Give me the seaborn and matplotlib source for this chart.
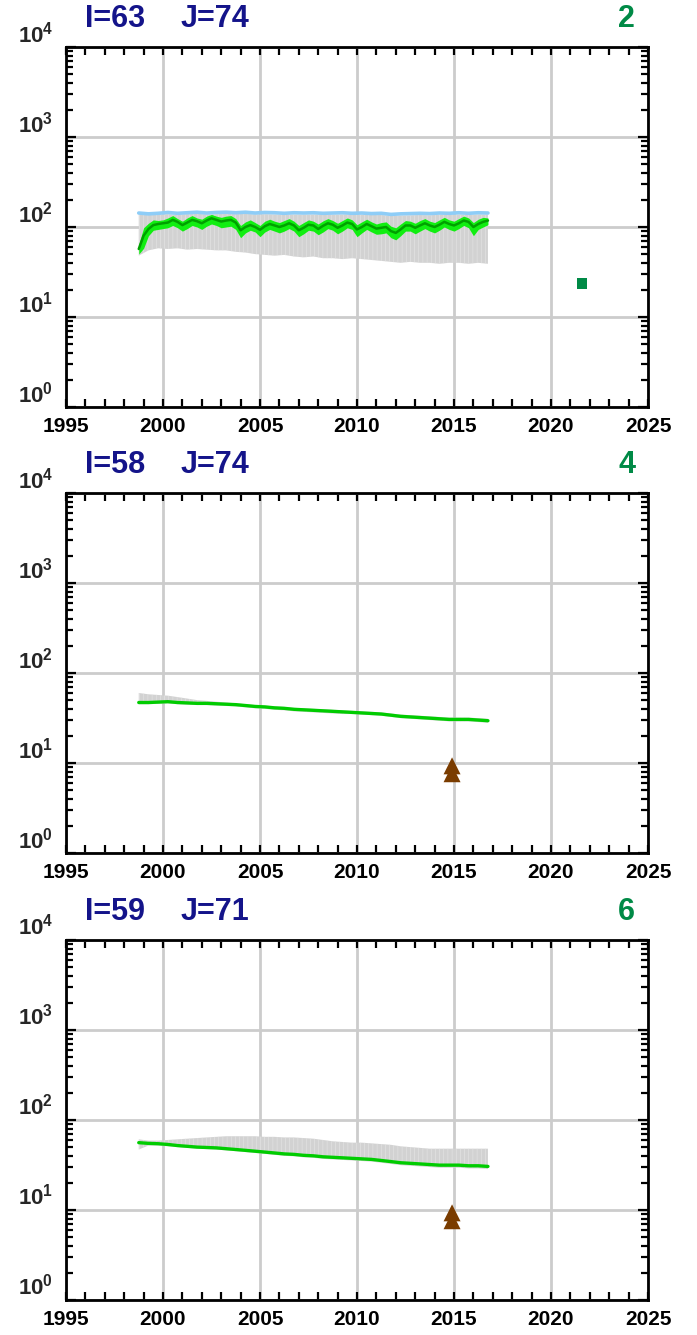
import numpy as np
import matplotlib
matplotlib.use('Agg')
import matplotlib.pyplot as plt
import matplotlib.transforms as mtransforms
import seaborn as sns
from matplotlib.ticker import MultipleLocator, FixedLocator, LogLocator, NullFormatter

sns.set_style('ticks')
plt.rcParams['font.family'] = ['Liberation Sans', 'DejaVu Sans']
plt.rcParams['font.weight'] = 'bold'
plt.rcParams['mathtext.fontset'] = 'custom'
plt.rcParams['mathtext.rm'] = 'Liberation Sans:bold'
plt.rcParams['mathtext.bf'] = 'Liberation Sans:bold'
plt.rcParams['hatch.linewidth'] = 0.4

# ---- data ----
# time axes (quarterly for panel 1 green series, half-yearly for the rest)
t_q = np.arange(1998.75, 2016.76, 0.25)
t_h = np.arange(1998.75, 2016.76, 0.5)

# panel 1 (I=63 J=74)
p1_green = [57, 80, 95, 105, 108, 110, 112, 120, 114, 105, 112, 120, 116, 110, 118, 125, 120,
            115, 118, 120, 112, 92, 100, 105, 100, 93, 102, 108, 104, 100, 104, 110, 104, 92,
            98, 106, 104, 95, 103, 110, 106, 98, 104, 112, 108, 94, 100, 108, 102, 96, 98, 100,
            90, 86, 94, 104, 104, 98, 104, 110, 104, 100, 106, 114, 108, 104, 110, 118, 114,
            100, 108, 114, 118]
p1_green_lo = [50, 58, 80, 92, 94, 96, 98, 104, 98, 90, 96, 104, 100, 94, 102, 108, 104,
               98, 100, 102, 94, 76, 86, 92, 88, 78, 88, 94, 90, 86, 90, 96, 90, 78, 84, 92,
               90, 82, 88, 96, 92, 84, 90, 98, 94, 78, 86, 94, 88, 83, 84, 86, 76, 72, 80, 90,
               90, 84, 90, 96, 90, 86, 92, 100, 94, 90, 96, 104, 98, 80, 94, 100, 106]
p1_green_hi = [64, 98, 110, 120, 118, 120, 126, 134, 124, 116, 126, 134, 126, 122, 132, 138,
               132, 128, 132, 134, 124, 104, 114, 120, 112, 104, 116, 122, 116, 112, 118, 124,
               116, 104, 112, 120, 116, 108, 117, 124, 118, 110, 118, 126, 120, 106, 114, 122,
               114, 108, 112, 114, 102, 98, 108, 118, 116, 110, 118, 124, 116, 112, 120, 128,
               120, 116, 124, 132, 126, 112, 122, 128, 126]
p1_blue = [143, 140, 142, 145, 142, 144, 146, 143, 145, 146, 144, 146, 143, 145, 144, 142, 144,
           143, 144, 142, 143, 144, 142, 143, 141, 142, 138, 140, 141, 142, 141, 143, 142, 144,
           142, 144, 143]
p1_grey_hi = [138, 136, 137, 139, 137, 139, 140, 138, 139, 140, 139, 140, 138, 139, 138, 137,
              138, 137, 138, 137, 137, 138, 137, 137, 136, 136, 133, 134, 135, 136, 135, 137,
              136, 138, 136, 138, 137]
p1_grey_lo = [48, 55, 58, 57, 58, 56, 57, 56, 55, 55, 53, 52, 50, 49, 48, 49, 47, 46, 47, 45,
              45, 44, 45, 44, 43, 42, 41, 40, 41, 40, 40, 39, 40, 40, 39, 40, 39]
p1_obs_t = [2021.6]
p1_obs_v = [23.5]

# panel 2 (I=58 J=74)
p2_green = [47, 47, 47.5, 48, 47, 46.5, 46, 46, 45.5, 45, 44.5, 43.5, 42.5, 42, 41, 40.5, 39.5,
            39, 38.5, 38, 37.5, 37, 36.5, 36, 35.5, 35, 34, 33, 32.5, 32, 31.5, 31, 30.5, 30.5,
            30.5, 30, 29.5]
p2_grey_hi = [60, 58, 57, 56, 54, 52, 50, 49, 48, 47, 46, 45, 44, 43.5, 42.5, 42, 41, 40.5, 40,
              39.5, 39, 38.5, 38, 37.5, 37, 36.5, 35.5, 34.5, 34, 33.5, 33, 32.5, 32, 32, 32,
              31.5, 31]
p2_grey_lo = [45, 45, 45.5, 46, 45, 44.5, 44, 44, 43.5, 43, 42.5, 41.5, 40.5, 40, 39, 38.5, 37.5,
              37, 36.5, 36, 35.5, 35, 35, 34.5, 34, 33.5, 32.5, 31.5, 31, 30.5, 30, 29.5, 29,
              29, 29, 28.5, 28]
p2_obs_t = [2014.9, 2014.9]
p2_obs_v = [9.3, 7.6]

# panel 3 (I=59 J=71)
p3_green = [56, 55, 54.5, 53.5, 52, 51, 50, 49.5, 49, 48, 47, 46, 45, 44, 43, 42, 41.5, 40.5,
            40, 39, 38.5, 38, 37.5, 37, 36.5, 35.5, 34.5, 33.5, 33, 32.5, 32, 31.5, 31.5, 31.5,
            31, 31, 30.5]
p3_grey_hi = [61, 59, 59, 60, 61, 62, 63, 64, 65, 66, 66, 66, 66, 65, 65, 64, 64, 63, 62, 60,
              58, 57, 56, 56, 55, 54, 53, 51, 50, 49, 48, 48, 48, 48, 48, 48, 48]
p3_grey_lo = [47, 52, 52, 51, 50, 49, 48, 47.5, 47, 46, 45, 44, 43, 42, 41, 40, 39.5, 38.5, 38,
              37, 36.5, 36, 35.5, 35, 34.5, 33.5, 32.5, 31.5, 31, 30.5, 30, 29.5, 29.5, 29.5,
              29, 29, 28.5]
p3_obs_t = [2014.9, 2014.9]
p3_obs_v = [9.3, 7.6]

titles = [('I=63', 'J=74', '2'), ('I=58', 'J=74', '4'), ('I=59', 'J=71', '6')]
ytick_vals = [1, 10, 100, 1000, 10000]
ytick_labels = [r'$\mathbf{10^{0}}$', r'$\mathbf{10^{1}}$', r'$\mathbf{10^{2}}$',
                r'$\mathbf{10^{3}}$', r'$\mathbf{10^{4}}$']

navy = '#14148a'
num_green = '#008a46'
brown = '#7a3c00'
grid_grey = '#cccccc'
band_grey = '#d2d2d2'

fig = plt.figure(figsize=(6.97, 13.35), dpi=100)
W, H = 697, 1335
tops = [47, 493, 940]
axes = [fig.add_axes([66 / W, 1 - (t + 360) / H, 582 / W, 360 / H]) for t in tops]


def style_axis(ax, names):
    ax.set_yscale('log')
    ax.set_xlim(1995, 2025)
    ax.set_ylim(1, 10000)
    ax.xaxis.set_major_locator(MultipleLocator(5))
    ax.xaxis.set_minor_locator(MultipleLocator(1))
    ax.yaxis.set_major_locator(FixedLocator(ytick_vals))
    ax.yaxis.set_minor_locator(LogLocator(base=10, subs=np.arange(2, 10)))
    ax.yaxis.set_minor_formatter(NullFormatter())
    ax.set_axisbelow(True)
    ax.grid(True, which='major', color=grid_grey, lw=2)
    ax.tick_params(which='both', direction='in', top=True, right=True, width=1.6, colors='black')
    ax.tick_params(axis='x', which='both', length=6, pad=7, labelsize=15)
    ax.tick_params(axis='y', which='major', length=7, labelleft=False)
    ax.tick_params(axis='y', which='minor', length=5)
    for lbl in ax.get_xticklabels():
        lbl.set_fontweight('bold')
    for sp in ax.spines.values():
        sp.set_linewidth(2)
        sp.set_color('black')
    ax.set_xlabel('')
    ax.set_ylabel('')
    # y labels sit just above their tick
    trans = mtransforms.blended_transform_factory(ax.transAxes, ax.transData)
    trans = trans + mtransforms.ScaledTranslation(-13 / 100, 5 / 100, fig.dpi_scale_trans)
    for v, s in zip(ytick_vals, ytick_labels):
        ax.text(0, v, s, transform=trans, fontsize=16, ha='right', va='baseline')
    left, mid, num = names
    ax.text(0.033, 1.035, left, transform=ax.transAxes, fontsize=22, fontweight='bold',
            color=navy, ha='left', va='bottom')
    ax.text(0.196, 1.035, mid, transform=ax.transAxes, fontsize=22, fontweight='bold',
            color=navy, ha='left', va='bottom')
    ax.text(0.978, 1.035, num, transform=ax.transAxes, fontsize=22, fontweight='bold',
            color=num_green, ha='right', va='bottom')


# panel 1
ax = axes[0]
ax.fill_between(t_h, p1_grey_lo, p1_grey_hi, facecolor=band_grey, edgecolor='#e6e6e6',
                hatch='||||', linewidth=0, zorder=2)
ax.fill_between(t_q, p1_green_lo, p1_green_hi, color='#11ee11', linewidth=0, zorder=3)
sns.lineplot(x=t_h, y=p1_blue, ax=ax, color='#8ecdf7', lw=2.6, zorder=4)
sns.lineplot(x=t_q, y=p1_green, ax=ax, color='#00a000', lw=1.8, zorder=5)
sns.scatterplot(x=p1_obs_t, y=p1_obs_v, ax=ax, marker='s', s=55, color=num_green,
                edgecolor='none', zorder=6)
style_axis(ax, titles[0])

# panel 2
ax = axes[1]
ax.fill_between(t_h, p2_grey_lo, p2_grey_hi, facecolor=band_grey, edgecolor='#e6e6e6',
                hatch='||||', linewidth=0, zorder=2)
sns.lineplot(x=t_h, y=p2_green, ax=ax, color='#00cc00', lw=2.4, zorder=5)
sns.scatterplot(x=p2_obs_t, y=p2_obs_v, ax=ax, marker='^', s=150, color=brown,
                edgecolor='none', zorder=6)
style_axis(ax, titles[1])

# panel 3
ax = axes[2]
ax.fill_between(t_h, p3_grey_lo, p3_grey_hi, facecolor=band_grey, edgecolor='#e6e6e6',
                hatch='||||', linewidth=0, zorder=2)
sns.lineplot(x=t_h, y=p3_green, ax=ax, color='#00cc00', lw=2.4, zorder=5)
sns.scatterplot(x=p3_obs_t, y=p3_obs_v, ax=ax, marker='^', s=150, color=brown,
                edgecolor='none', zorder=6)
style_axis(ax, titles[2])

plt.savefig('out.png', dpi=100)
